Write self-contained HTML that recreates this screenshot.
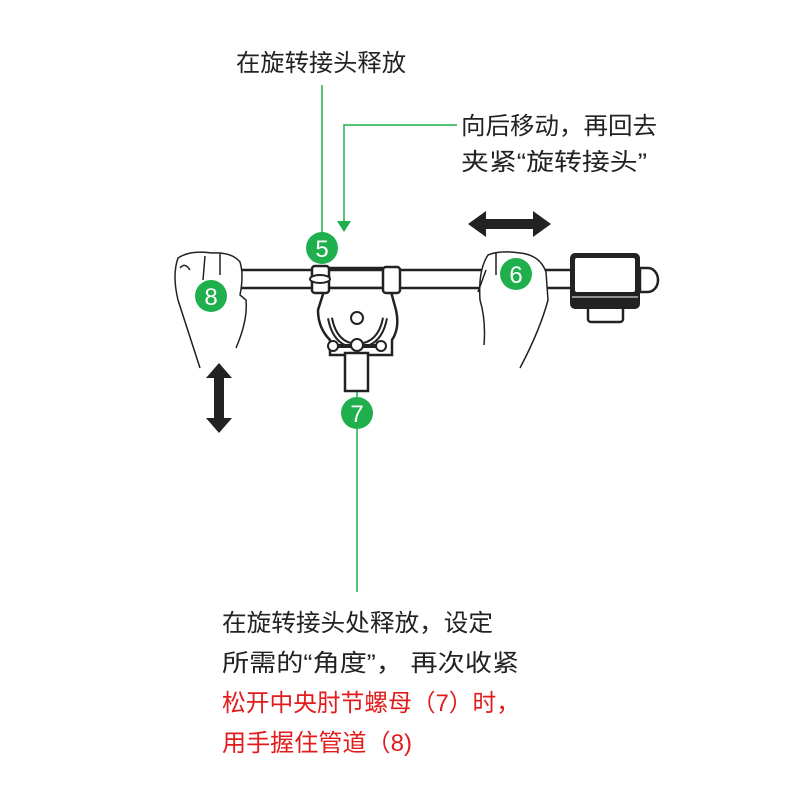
<!DOCTYPE html>
<html><head><meta charset="utf-8"><style>
body{margin:0;background:#fff}
svg{display:block}
text{font-family:"Liberation Sans","Noto Sans CJK SC",sans-serif}
</style></head><body>
<svg width="800" height="800" viewBox="0 0 800 800">
<rect width="800" height="800" fill="#fff"/>
<g fill="#222" font-size="24">
<text x="236" y="71" textLength="170" lengthAdjust="spacingAndGlyphs">在旋转接头释放</text>
<text x="461" y="134" textLength="196" lengthAdjust="spacingAndGlyphs">向后移动，再回去</text>
<text x="461" y="170" textLength="186" lengthAdjust="spacingAndGlyphs">夹紧“旋转接头”</text>
<text x="222" y="631" textLength="271" lengthAdjust="spacingAndGlyphs">在旋转接头处释放，设定</text>
<text x="222" y="671" textLength="297" lengthAdjust="spacingAndGlyphs">所需的“角度”， 再次收紧</text>
</g>
<g fill="#e21c1c" font-size="24">
<text x="222" y="711" textLength="298" lengthAdjust="spacingAndGlyphs">松开中央肘节螺母（7）时，</text>
<text x="222" y="751" textLength="190" lengthAdjust="spacingAndGlyphs">用手握住管道（8)</text>
</g>
<g stroke="#1fb04d" stroke-width="1.5" fill="none">
<line x1="322" y1="85" x2="322" y2="236"/>
<polyline points="457,125 344,125 344,222"/>
<line x1="357" y1="345" x2="357" y2="592"/>
</g>
<polygon points="337,221 351,221 344,232" fill="#1fb04d"/>
<rect x="238" y="270" width="336" height="18" fill="#fff" stroke="#222" stroke-width="2.5"/>
<rect x="588" y="300" width="35" height="22" rx="3" fill="#fff" stroke="#222" stroke-width="2.5"/>
<rect x="570" y="253" width="70" height="56" rx="5" fill="#222"/>
<rect x="575" y="258" width="60" height="34" rx="2" fill="#fff"/>
<line x1="572" y1="297" x2="638" y2="297" stroke="#fff" stroke-width="1"/>
<path d="M640 268 h8 a10 12 0 0 1 0 24 h-8z" fill="#fff" stroke="#222" stroke-width="2.5"/>
<path d="M325 288 L318 310 Q318 328 330 340 L330 355 L392 355 L392 340 Q400 328 396 310 L390 288 Z" fill="#fff" stroke="#222" stroke-width="2.5"/>
<path d="M330 318 Q335 345 357 346 Q380 345 385 318" fill="none" stroke="#222" stroke-width="6"/>
<path d="M330 318 Q335 345 357 346 Q380 345 385 318" fill="none" stroke="#fff" stroke-width="2"/>
<circle cx="357" cy="318" r="6" fill="#fff" stroke="#222" stroke-width="2"/>
<rect x="345" y="353" width="23" height="38" fill="#fff" stroke="#222" stroke-width="2.5"/>
<line x1="333" y1="346" x2="381" y2="346" stroke="#222" stroke-width="4"/>
<circle cx="333" cy="346" r="5" fill="#fff" stroke="#222" stroke-width="2"/>
<circle cx="381" cy="346" r="5" fill="#fff" stroke="#222" stroke-width="2"/>
<circle cx="357" cy="345" r="6" fill="#fff" stroke="#222" stroke-width="2"/>
<rect x="312" y="266" width="17" height="27" rx="3" fill="#fff" stroke="#222" stroke-width="2.5"/>
<ellipse cx="320" cy="279" rx="10" ry="4" fill="#fff" stroke="#222" stroke-width="2"/>
<rect x="383" y="267" width="17" height="26" rx="3" fill="#fff" stroke="#222" stroke-width="2.5"/>
<line x1="329" y1="268" x2="383" y2="268" stroke="#222" stroke-width="2.5"/>
<path d="M200 368 L178 300 Q172 275 178 258 Q190 250 212 253 Q232 252 240 262 Q244 275 240 295 L246 300 Q248 320 236 348 M180 268 Q185 262 190 270 M205 256 L203 280 M220 254 L220 275" fill="#fff" stroke="#222" stroke-width="1.5"/>
<path d="M484 345 Q486 320 480 300 Q478 270 488 255 Q500 250 520 253 Q540 255 546 272 L548 300 Q540 330 520 368 M496 253 L496 275 M486 270 L478 292" fill="#fff" stroke="#222" stroke-width="1.5"/>
<polygon points="468,224 486,211 486,219 533,219 533,211 551,224 533,237 533,229 486,229 486,237" fill="#222"/>
<polygon points="219,363 232,378 224,378 224,418 232,418 219,433 206,418 214,418 214,378 206,378" fill="#222"/>
<g fill="#1fb04d"><circle cx="322" cy="248" r="16"/><circle cx="211" cy="296" r="16"/><circle cx="516" cy="274" r="16"/><circle cx="357" cy="413" r="16"/></g>
<g fill="#fff" font-size="24" text-anchor="middle">
<text x="322" y="257">5</text><text x="211" y="305">8</text><text x="516" y="283">6</text><text x="357" y="422">7</text>
</g>
</svg>
</body></html>
